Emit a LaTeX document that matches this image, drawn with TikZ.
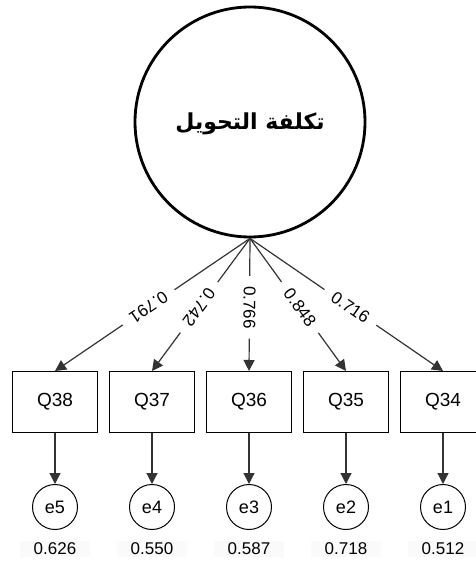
\documentclass[tikz,border=0pt]{standalone}
\usepackage{fontspec}
\setmainfont{Liberation Sans}
\newfontfamily\arabicfont[Script=Arabic]{DejaVu Sans}
\TeXXeTstate=1
\usetikzlibrary{arrows.meta}
\begin{document}
\begin{tikzpicture}[x=1pt,y=-1pt,
  factor/.style={circle, draw, line width=2.8pt, minimum size=230pt, inner sep=0pt},
  item/.style={rectangle, draw, line width=1pt, minimum width=85pt, minimum height=61pt,
    font=\fontsize{19}{19}\selectfont},
  err/.style={circle, draw, line width=1pt, minimum size=45pt, inner sep=0pt,
    font=\fontsize{18}{18}\selectfont},
  load/.style={-{Triangle[length=11pt,width=11pt]}, line width=1.2pt, draw=black!80},
  coef/.style={fill=white, sloped, allow upside down, pos=0.52, inner xsep=10pt, inner ysep=1pt,
    font=\fontsize{17}{17}\selectfont},
  var/.style={font=\fontsize{17}{17}\selectfont, fill=black!2, inner sep=2pt, minimum width=70pt}
]
\useasboundingbox (0,0) rectangle (475,561);

% latent factor
\node[factor] (F) at (250,122) {};
\node (Ftext) at (250,124) {\arabicfont\bfseries\fontsize{22}{22}\selectfont\beginR تكلفة التحويل\endR};
\coordinate (hub) at (F.south);

% observed items
\node[item] (q38) at (55,402)  {Q38};
\node[item] (q37) at (152,402) {Q37};
\node[item] (q36) at (249,402) {Q36};
\node[item] (q35) at (346,402) {Q35};
\node[item] (q34) at (443,402) {Q34};

% error terms
\node[err] (e5) at (55,507)  {e5};
\node[err] (e4) at (152,507) {e4};
\node[err] (e3) at (249,507) {e3};
\node[err] (e2) at (346,507) {e2};
\node[err] (e1) at (443,507) {e1};

% error variances
\node[var] (v5) at (55,549)  {0.626};
\node[var] (v4) at (152,549) {0.550};
\node[var] (v3) at (249,549) {0.587};
\node[var] (v2) at (346,549) {0.718};
\node[var] (v1) at (443,549) {0.512};

% factor loadings
\draw[load] (hub) -- node[coef] (l38) {0.791} (q38.north);
\draw[load] (hub) -- node[coef] (l37) {0.742} (q37.north);
\draw[load] (hub) -- node[coef] (l36) {0.766} (q36.north);
\draw[load] (hub) -- node[coef] (l35) {0.848} (q35.north);
\draw[load] (hub) -- node[coef] (l34) {0.716} (q34.north);

% item to error
\draw[load] (q38.south) -- (e5.north);
\draw[load] (q37.south) -- (e4.north);
\draw[load] (q36.south) -- (e3.north);
\draw[load] (q35.south) -- (e2.north);
\draw[load] (q34.south) -- (e1.north);
\end{tikzpicture}
\end{document}
